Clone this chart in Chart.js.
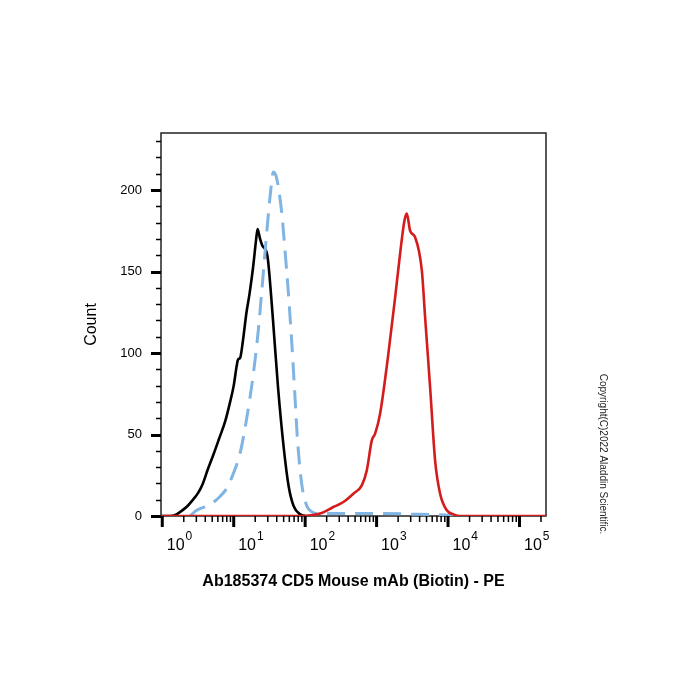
<!DOCTYPE html>
<html>
<head>
<meta charset="utf-8">
<script src="https://cdn.jsdelivr.net/npm/chart.js@4/dist/chart.umd.min.js"></script>
<style>
  html, body { margin: 0; padding: 0; background: #fff; }
  #wrap { width: 700px; height: 700px; }
</style>
</head>
<body>
<div id="wrap"><canvas id="c" width="700" height="700"></canvas></div>
<script>
// ---- data ----
const controlX = [0.96, 1.26, 1.58, 1.78, 2.24, 2.69, 3.16, 3.63, 4.37, 5.13, 6.31, 7.59, 8.91, 10.0, 11.0, 11.5, 12.3, 13.5, 15.1, 16.6, 18.6, 20.4, 21.6, 23.4, 25.1, 28.8, 30.2, 35.5, 41.7, 50.1, 58.9, 69.2, 85.1, 100];
const controlY = [0, 0, 1, 2.5, 6, 10, 14, 19, 29, 37, 48, 58, 70, 80, 92, 96, 97, 108, 125, 136, 152, 168, 176, 170, 166, 162, 157, 120, 79, 42, 18, 6, 1, 0];

const isotypeX = [2.44, 3.03, 4.66, 6.43, 7.98, 9.86, 12.2, 15.2, 18.8, 22.1, 24.7, 29.0, 33.0, 35.9, 40.0, 47.0, 52.2, 58.2, 64.6, 71.0, 78.3, 90.6, 106, 125, 162, 309, 1122, 4074, 10715, 14791];
const isotypeY = [0, 3.5, 7, 12, 17, 26, 38, 60, 87, 114, 138, 174, 200, 211, 207, 186, 163, 137, 108, 78, 46, 18, 6, 2.5, 1.5, 1.5, 1.5, 1, 0.5, 0];

const stainedX = [0.96, 84.5, 161, 248, 343, 473, 621, 729, 857, 953, 1119, 1462, 1816, 2133, 2449, 2649, 2944, 3459, 4295, 4775, 5610, 6592, 7745, 9616, 11912, 14791, 235000];
const stainedY = [0, 0, 1.5, 5.5, 8.6, 13.7, 18.8, 28, 46.4, 50.5, 62.8, 99.6, 134, 161, 181, 185.5, 175, 171, 150.7, 122, 79, 34, 13.7, 3.5, 1, 0, 0];

const xMin = 0.96, xMax = 235000;
const yMin = 0, yMax = 235;
const xDecadeExponents = [0, 1, 2, 3, 4, 5];
const yTickLabels = [0, 50, 100, 150, 200];
const yMinorStep = 10;
const xTitle = 'Ab185374 CD5 Mouse mAb (Biotin) - PE';
const yTitle = 'Count';
const copyright = 'Copyright(C)2022 Aladdin Scientific.';

const FONT = "'Liberation Sans', Arial, Helvetica, sans-serif";
Chart.defaults.color = '#000';
Chart.defaults.font.family = FONT;

function pts(xs, ys) { return xs.map((x, i) => ({ x: x, y: ys[i] })); }

const decorPlugin = {
  id: 'decor',
  beforeDatasetsDraw(chart) {
    const { ctx, chartArea: a } = chart;
    ctx.save();
    ctx.strokeStyle = '#222';
    ctx.lineWidth = 1.5;
    ctx.strokeRect(a.left, a.top, a.right - a.left, a.bottom - a.top);
    ctx.restore();
  },
  afterDraw(chart) {
    const { ctx, chartArea: a } = chart;
    const xs = chart.scales.x, ys = chart.scales.y;
    ctx.save();
    ctx.strokeStyle = '#000';
    // y ticks
    for (let v = yMin; v <= yMax; v += yMinorStep) {
      const py = Math.round(ys.getPixelForValue(v)) + 0.5;
      const major = yTickLabels.includes(v);
      ctx.lineWidth = major ? 3 : 1.5;
      ctx.beginPath();
      ctx.moveTo(a.left - (major ? 10 : 5), py);
      ctx.lineTo(a.left, py);
      ctx.stroke();
    }
    // x ticks (decades + minor)
    xDecadeExponents.forEach(k => {
      for (let m = 1; m <= 9; m++) {
        const v = m * Math.pow(10, k);
        if (v < xMin || v > xMax) continue;
        const px = xs.getPixelForValue(v);
        const major = m === 1;
        ctx.lineWidth = major ? 3 : 1.5;
        ctx.beginPath();
        ctx.moveTo(px, a.bottom);
        ctx.lineTo(px, a.bottom + (major ? 11 : 6));
        ctx.stroke();
      }
    });
    // x tick labels 10^k
    ctx.fillStyle = '#000';
    ctx.textBaseline = 'alphabetic';
    ctx.textAlign = 'left';
    xDecadeExponents.forEach(k => {
      const px = xs.getPixelForValue(Math.pow(10, k));
      ctx.font = '16px ' + FONT;
      ctx.fillText('10', px + 4.5, 550);
      const w = ctx.measureText('10').width;
      ctx.font = '12px ' + FONT;
      ctx.fillText(String(k), px + 4.5 + w + 1, 540);
    });
    // copyright, rotated
    ctx.translate(603, 454);
    ctx.rotate(Math.PI / 2);
    ctx.font = '10px ' + FONT;
    ctx.fillStyle = '#222';
    ctx.textAlign = 'center';
    ctx.textBaseline = 'middle';
    ctx.fillText(copyright, 0, 0);
    ctx.restore();
  }
};

new Chart(document.getElementById('c'), {
  type: 'line',
  data: {
    datasets: [
      { label: 'CD5 stained', data: pts(stainedX, stainedY), borderColor: 'rgb(212,28,28)', borderWidth: 2.6 },
      { label: 'Isotype', data: pts(isotypeX, isotypeY), borderColor: 'rgb(128,180,226)', borderWidth: 3, borderDash: [18, 10] },
      { label: 'Control', data: pts(controlX, controlY), borderColor: '#000', borderWidth: 2.6 }
    ]
  },
  options: {
    responsive: false,
    devicePixelRatio: 1,
    animation: false,
    parsing: true,
    elements: { point: { radius: 0 }, line: { cubicInterpolationMode: 'monotone', fill: false } },
    layout: { padding: { left: 60, top: 133, right: 154, bottom: 80 } },
    plugins: { legend: { display: false }, tooltip: { enabled: false }, title: { display: false } },
    scales: {
      x: {
        type: 'logarithmic',
        min: xMin, max: xMax,
        grid: { display: false, drawTicks: false },
        border: { display: false },
        ticks: { display: false },
        title: { display: true, text: xTitle, font: { size: 16, weight: 'bold', family: FONT }, color: '#000', padding: { top: 0, bottom: 29 } },
        afterFit(s) { s.height = 104; }
      },
      y: {
        type: 'linear',
        min: yMin, max: yMax,
        grid: { display: false, drawTicks: false },
        border: { display: false },
        ticks: {
          stepSize: 50, includeBounds: false, padding: 19,
          font: { size: 13, family: FONT }, color: '#000',
          callback: v => (yTickLabels.includes(v) ? String(v) : '')
        },
        title: { display: true, text: yTitle, font: { size: 16, family: FONT }, color: '#000', padding: { top: 22, bottom: 0 } },
        afterFit(s) { s.width = 101; }
      }
    }
  },
  plugins: [decorPlugin]
});
</script>
</body>
</html>
